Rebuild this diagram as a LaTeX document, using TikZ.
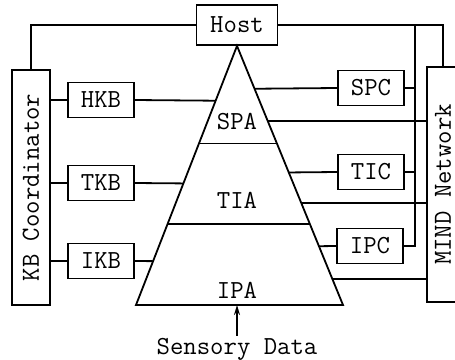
\documentclass[tikz,border=0pt]{standalone}
\usepackage{graphicx}
\usepackage{tikz}
\usetikzlibrary{arrows.meta,positioning,calc}

\begin{document}
\begin{tikzpicture}[
    x=0.5pt, y=-0.5pt,
    wire/.style={line width=0.9pt},
    tt/.style={font=\fontsize{13}{15}\selectfont\ttfamily},
    kbox/.style={draw, wire, tt, inner sep=0pt, minimum width=33pt, minimum height=17.5pt},
    sidebox/.style={draw, wire, tt, inner sep=0pt, minimum height=117.5pt},
    >=Stealth
]
\useasboundingbox (0,0) rectangle (455,359);

% host and pyramid
\node[kbox, minimum width=40.5pt, minimum height=20pt] (host) at (237,25) {Host};
\coordinate (apex) at (host.south);
\coordinate (bl) at (136,305);
\coordinate (br) at (343,305);
\draw[wire, line join=miter] (apex) -- (bl) -- (br) -- cycle;
\draw[wire] ($(apex)!98/260!(bl)$) -- ($(apex)!98/260!(br)$);
\draw[wire] ($(apex)!179/260!(bl)$) -- ($(apex)!179/260!(br)$);
\node[tt] (spa) at (237,122) {SPA};
\node[tt] (tia) at (237,200) {TIA};
\node[tt] (ipa) at (237,290) {IPA};

% side units
\node[sidebox, minimum width=19pt] (kbc) at (31,187.5) {\rotatebox{90}{KB Coordinator}};
\node[sidebox, minimum width=16pt] (mind) at (443,184.5) {\rotatebox{90}{MIND Network}};

% knowledge bases
\node[kbox] (hkb) at (101,100) {HKB};
\node[kbox] (tkb) at (101,183) {TKB};
\node[kbox] (ikb) at (101,261) {IKB};

% controllers
\node[kbox] (spc) at (371,88) {SPC};
\node[kbox] (tic) at (371,172) {TIC};
\node[kbox] (ipc) at (370,246) {IPC};

% left wiring
\draw[wire] (host.west) -| (kbc.north);
\draw[wire] (hkb.west -| kbc.east) -- (hkb.west);
\draw[wire] (tkb.west -| kbc.east) -- (tkb.west);
\draw[wire] (ikb.west -| kbc.east) -- (ikb.west);
\draw[wire] (hkb.east) -- ($(apex)!55/260!(bl)$);
\draw[wire] (tkb.east) -- ($(apex)!138/260!(bl)$);
\draw[wire] (ikb.east) -- ($(apex)!216/260!(bl)$);

% right wiring
\draw[wire] (host.east) -| (mind.north);
\coordinate (bus) at (415,25);
\draw[wire] (bus) |- (ipc.east);
\draw[wire] (spc.east) -- (spc.east -| bus);
\draw[wire] (tic.east) -- (tic.east -| bus);
\draw[wire] ($(apex)!43/260!(br)$) -- (spc.west);
\draw[wire] ($(apex)!127/260!(br)$) -- (tic.west);
\draw[wire] ($(apex)!201/260!(br)$) -- (ipc.west);
\coordinate (m1) at ($(apex)!75/260!(br)$);
\coordinate (m2) at ($(apex)!158/260!(br)$);
\coordinate (m3) at ($(apex)!234/260!(br)$);
\draw[wire] (m1) -- (m1 -| mind.west);
\draw[wire] (m2) -- (m2 -| mind.west);
\draw[wire] (m3) -- (m3 -| mind.west);

% input
\node[tt, inner sep=1pt] (sensory) at (237,349) {Sensory Data};
\draw[wire, -{Stealth[length=5pt, width=3pt]}] (sensory.north) -- (sensory.north |- bl);
\end{tikzpicture}
\end{document}
